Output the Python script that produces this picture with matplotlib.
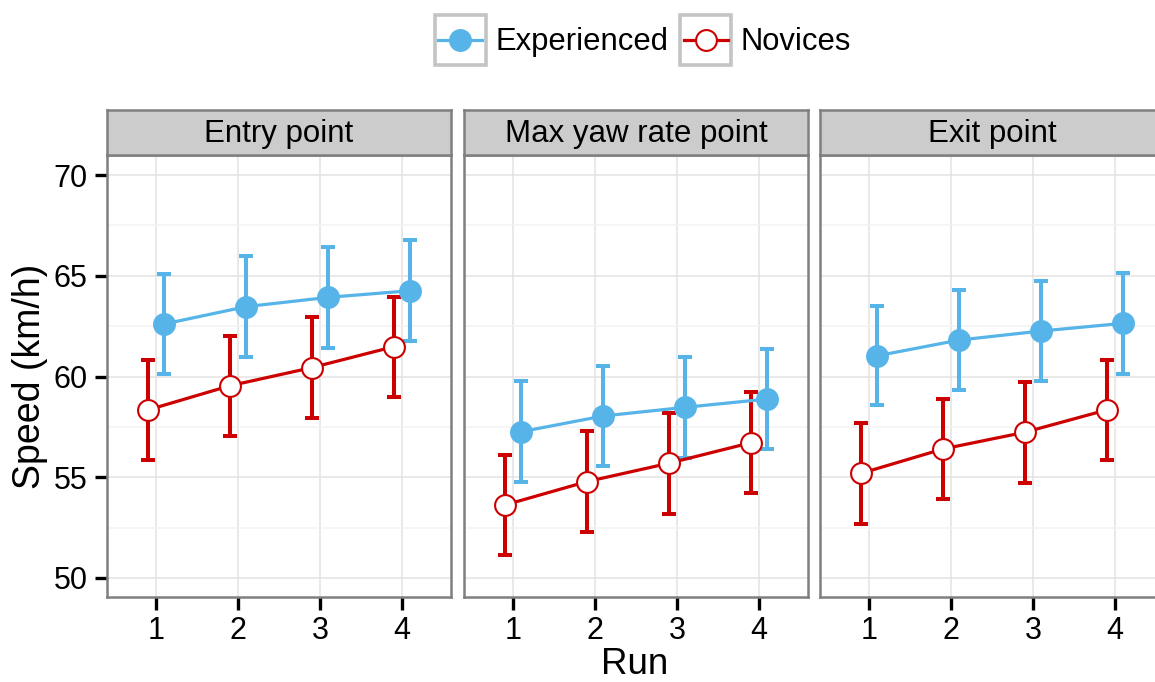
import matplotlib
matplotlib.use("Agg")
import matplotlib.pyplot as plt
from matplotlib.lines import Line2D
from matplotlib.patches import Rectangle
from matplotlib.legend_handler import HandlerLine2D
from matplotlib.ticker import MultipleLocator, FixedLocator

plt.rcParams["font.family"] = ["Liberation Sans", "DejaVu Sans"]

# ---- data -------------------------------------------------------------
runs = [1, 2, 3, 4]
facets = ["Entry point", "Max yaw rate point", "Exit point"]
groups = ["Experienced", "Novices"]

experienced_mean = {
    "Entry point":        [62.61, 63.47, 63.93, 64.26],
    "Max yaw rate point": [57.26, 58.04, 58.47, 58.88],
    "Exit point":         [61.03, 61.81, 62.26, 62.64],
}
experienced_err = {
    "Entry point":        [2.5, 2.5, 2.5, 2.5],
    "Max yaw rate point": [2.5, 2.5, 2.5, 2.5],
    "Exit point":         [2.45, 2.5, 2.5, 2.5],
}
novices_mean = {
    "Entry point":        [58.34, 59.54, 60.44, 61.48],
    "Max yaw rate point": [53.62, 54.78, 55.69, 56.71],
    "Exit point":         [55.19, 56.40, 57.23, 58.34],
}
novices_err = {
    "Entry point":        [2.48, 2.48, 2.5, 2.48],
    "Max yaw rate point": [2.5, 2.5, 2.5, 2.5],
    "Exit point":         [2.5, 2.5, 2.5, 2.5],
}

y_ticks = [50, 55, 60, 65, 70]
x_label = "Run"
y_label = "Speed (km/h)"

# ---- styling ------------------------------------------------------------
BLUE = "#56B4E9"
RED = "#CC0000"
BORDER = "#7f7f7f"
STRIP_FILL = "#cccccc"
GRID_MAJOR = "#e3e3e3"
GRID_MINOR = "#f2f2f2"
dodge = 0.1
LINE_W = 2.3
ERR_W = 2.9
MS = 15
MEW = 1.5

W, H = 1155, 682
fig = plt.figure(figsize=(W / 100, H / 100), dpi=100)
fig.patch.set_facecolor("white")

panel_left = [107, 464, 820]
panel_w = 344
panel_top, panel_bottom = 155, 597
strip_top = 110


def fx(px):
    return px / W


def fy(py):
    return 1 - py / H


series = [
    (groups[0], experienced_mean, experienced_err, BLUE, BLUE, +dodge),
    (groups[1], novices_mean, novices_err, RED, "white", -dodge),
]

for i, facet in enumerate(facets):
    ax = fig.add_axes([fx(panel_left[i]), fy(panel_bottom),
                       fx(panel_w), (panel_bottom - panel_top) / H])
    ax.set_xlim(0.4, 4.6)
    ax.set_ylim(49.05, 71.0)
    ax.yaxis.set_major_locator(FixedLocator(y_ticks))
    ax.yaxis.set_minor_locator(MultipleLocator(2.5))
    ax.xaxis.set_major_locator(FixedLocator(runs))
    ax.grid(True, which="major", color=GRID_MAJOR, lw=1.1, zorder=0)
    ax.grid(True, which="minor", axis="y", color=GRID_MINOR, lw=1.1, zorder=0)
    ax.set_axisbelow(True)
    for sp in ax.spines.values():
        sp.set_color(BORDER)
        sp.set_linewidth(1.8)
    ax.tick_params(axis="both", which="major", direction="out", length=9,
                   width=2.4, color="black", labelsize=22, pad=5,
                   labelcolor="black")
    ax.tick_params(axis="both", which="minor", length=0)
    ax.set_xticklabels([str(r) for r in runs])
    if i == 0:
        ax.set_yticklabels([str(t) for t in y_ticks])
        ax.set_ylabel(y_label, fontsize=27, labelpad=4)
    else:
        ax.tick_params(axis="y", which="both", left=False, labelleft=False)

    for name, means, errs, col, face, off in series:
        xs = [r + off for r in runs]
        ax.errorbar(xs, means[facet], yerr=errs[facet], fmt="none",
                    ecolor=col, elinewidth=ERR_W, capsize=4.8, capthick=ERR_W,
                    zorder=3)
        ax.plot(xs, means[facet], color=col, lw=LINE_W, marker="o",
                ms=MS, mfc=face, mec=col, mew=MEW, zorder=4)

    # facet strip
    sax = fig.add_axes([fx(panel_left[i]), fy(panel_top),
                        fx(panel_w), (panel_top - strip_top) / H])
    sax.set_facecolor(STRIP_FILL)
    sax.set_xticks([])
    sax.set_yticks([])
    for sp in sax.spines.values():
        sp.set_color(BORDER)
        sp.set_linewidth(1.8)
    sax.text(0.5, 0.46, facet, ha="center", va="center", fontsize=22.5,
             transform=sax.transAxes, color="black")

fig.text(fx(635), fy(664), x_label, ha="center", va="center", fontsize=26.5)


class BoxedKey(HandlerLine2D):
    """Legend key drawn inside a light grey square, like a ggplot key."""

    def get_xdata(self, legend, xdescent, ydescent, width, height, fontsize):
        pad = 0.18 * fontsize
        return ([-xdescent + pad, -xdescent + width - pad],
                [-xdescent + 0.5 * width])

    def create_artists(self, legend, orig_handle, xdescent, ydescent,
                       width, height, fontsize, trans):
        arts = super().create_artists(legend, orig_handle, xdescent, ydescent,
                                      width, height, fontsize, trans)
        yc = -ydescent + height / 2
        for a in arts:
            a.set_ydata([yc] * len(a.get_xdata()))
        box = Rectangle((-xdescent + 1.5, -ydescent + 1.5), width - 3,
                        height - 3, facecolor="white", edgecolor="#c4c4c4",
                        lw=2.6, transform=trans)
        return [box] + list(arts)


leg_handles = [Line2D([], [], color=BLUE, lw=LINE_W, marker="o", ms=MS,
                      mfc=BLUE, mec=BLUE, mew=MEW),
               Line2D([], [], color=RED, lw=LINE_W, marker="o", ms=MS,
                      mfc="white", mec=RED, mew=MEW)]
fig.legend(leg_handles, groups, loc="center", bbox_to_anchor=(fx(642), fy(40)),
           ncol=2, frameon=False, fontsize=22.3, handlelength=1.78,
           handleheight=2.35, handletextpad=0.25, columnspacing=0.3,
           numpoints=1, handler_map={Line2D: BoxedKey()})

fig.savefig("out.png", dpi=100, facecolor="white")
